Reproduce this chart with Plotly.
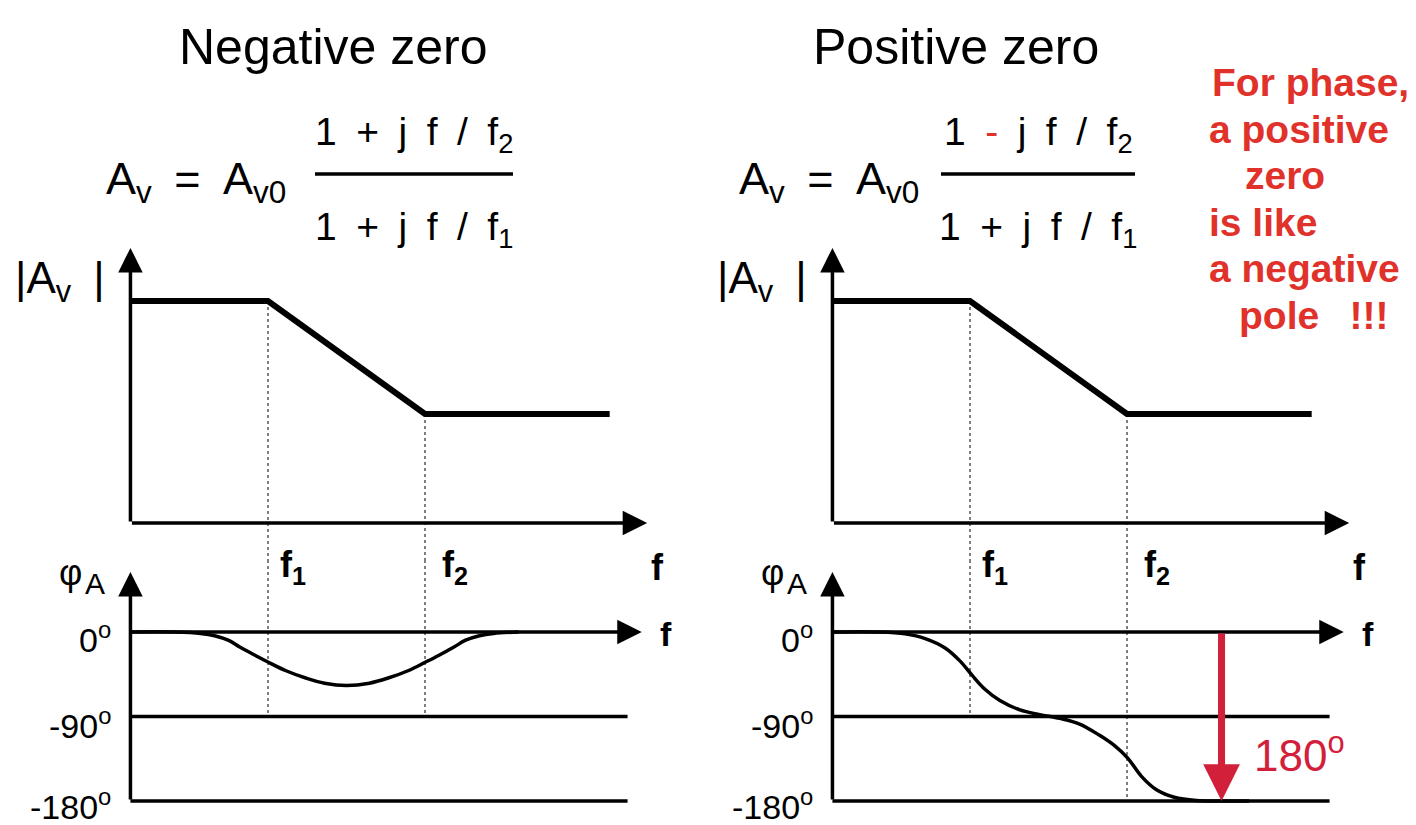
import math
import plotly.graph_objects as go

W, H = 1416, 825
FONT = "Liberation Sans, Arial, sans-serif"
RED_TXT = "#e0322b"
RED_ARROW = "#d2203a"

# ---- data: frequency normalised to f1 (f2 = 10 f1), magnitude in dB, phase in degrees ----
F1, F2 = 1.0, 10.0
mag_f = [0.133, 1.0, 10.0, 150.0]
mag_db = [0.0, 0.0, -20.0, -20.0]

neg_f = [0.133, 0.257, 0.372, 0.457, 0.562, 0.661, 0.832, 1.0, 1.29, 1.74, 2.29,
         3.16, 4.43, 5.83, 7.87, 10.1, 12.2, 15.3, 18.0, 22.2, 27.3, 39.4]
neg_phase = [0, 0, -1.5, -4, -9, -16, -25, -32, -41, -49, -54.5,
             -57, -54.5, -49, -41, -32, -25, -16, -9, -4, -1.5, 0]

pos_f = [0.133, 0.268, 0.386, 0.518, 0.694, 0.865, 1.03, 1.245, 1.55, 2.08, 2.78,
         3.73, 4.99, 6.69, 8.33, 10.07, 12.4, 15.4, 20.0, 27.6, 38.7, 60.0]
pos_phase = [0, 0, -2, -7, -17, -31, -46, -61, -73, -83, -88,
             -92, -98, -110, -121, -134, -154, -168, -176, -179.5, -180, -180]

phase_levels = [0, -90, -180]
phase_texts = ["0<sup>o</sup>", "-90<sup>o</sup>", "-180<sup>o</sup>"]
shift_deg = 180           # phase drop marked on the positive-zero plot
f_shift = 40.0            # where that marker stands

# ---- axis geometry (data units) ----
F_AXIS = 0.133            # vertical axes
F_MAG_TIP = 260.0         # tip of magnitude f-axis
F_PH_TIP = 240.0          # tip of the 0 deg f-axis
F_PH_END = 195.0          # end of -90 / -180 guide lines
MAG_TOP, MAG_BASE = 9.4, -39.3
PH_TOP = 64.0

X_RANGE = [-1.070, 2.624]
MAG_RANGE = [-45.84, 10.80]
PH_RANGE = [-194.9, 76.7]


def px(x):
    return x / W


def py(y):
    return 1 - y / H


fig = go.Figure()

panels = [
    dict(xm="x", ym="y", xp="x2", yp="y2", pf=neg_f, ph=neg_phase,
         f2_dot=-90, dx=0, x0=100),
    dict(xm="x3", ym="y3", xp="x4", yp="y4", pf=pos_f, ph=pos_phase,
         f2_dot=-180, dx=702, x0=802),
]

annotations = []
shapes = []
layout_axes = {}


def arrow(xref, yref, f0, v0, f1, v1, width=3.5, size=1.4, color="black"):
    return dict(xref=xref, yref=yref, axref=xref, ayref=yref,
                x=math.log10(f1), y=v1, ax=math.log10(f0), ay=v0,
                showarrow=True, arrowhead=2, arrowwidth=width,
                arrowsize=size, arrowcolor=color, text="")


def label(text, x, y, size, color="black", xanchor="center", yanchor="middle"):
    return dict(xref="paper", yref="paper", x=px(x), y=py(y), text=text,
                showarrow=False, xanchor=xanchor, yanchor=yanchor,
                font=dict(family=FONT, size=size, color=color))


sp = "\u2002"

for p in panels:
    dotted = dict(color="#555555", width=1.5, dash="dot")
    # dotted guides at f1 and f2 through magnitude and phase plots
    fig.add_trace(go.Scatter(x=[F1, F1], y=[mag_db[1], MAG_RANGE[0]], mode="lines",
                             line=dotted, xaxis=p["xm"], yaxis=p["ym"], hoverinfo="skip"))
    fig.add_trace(go.Scatter(x=[F2, F2], y=[mag_db[2], MAG_RANGE[0]], mode="lines",
                             line=dotted, xaxis=p["xm"], yaxis=p["ym"], hoverinfo="skip"))
    fig.add_trace(go.Scatter(x=[F1, F1], y=[PH_RANGE[1], -90], mode="lines",
                             line=dotted, xaxis=p["xp"], yaxis=p["yp"], hoverinfo="skip"))
    fig.add_trace(go.Scatter(x=[F2, F2], y=[PH_RANGE[1], p["f2_dot"]], mode="lines",
                             line=dotted, xaxis=p["xp"], yaxis=p["yp"], hoverinfo="skip"))

    # -90 / -180 guide lines
    for lv in phase_levels[1:]:
        fig.add_trace(go.Scatter(x=[F_AXIS, F_PH_END], y=[lv, lv], mode="lines",
                                 line=dict(color="black", width=3.5),
                                 xaxis=p["xp"], yaxis=p["yp"], hoverinfo="skip"))

    # magnitude asymptote
    fig.add_trace(go.Scatter(x=mag_f, y=mag_db, mode="lines",
                             line=dict(color="black", width=6),
                             xaxis=p["xm"], yaxis=p["ym"], hoverinfo="skip"))
    # phase curve
    fig.add_trace(go.Scatter(x=p["pf"], y=p["ph"], mode="lines",
                             line=dict(color="black", width=3.5, shape="spline", smoothing=1.0),
                             xaxis=p["xp"], yaxis=p["yp"], hoverinfo="skip"))

    # axes with arrow heads
    annotations.append(arrow(p["xm"], p["ym"], F_AXIS, MAG_BASE, F_AXIS, MAG_TOP))
    annotations.append(arrow(p["xm"], p["ym"], F_AXIS, MAG_BASE, F_MAG_TIP, MAG_BASE))
    annotations.append(arrow(p["xp"], p["yp"], F_AXIS, -180, F_AXIS, PH_TOP))
    annotations.append(arrow(p["xp"], p["yp"], F_AXIS, 0, F_PH_TIP, 0))

    dx = p["dx"]
    # axis labels
    annotations.append(label(f"|A<sub>v</sub>{sp}|", 13 + dx, 281, 44, xanchor="left"))
    annotations.append(label("φ", 70 + dx, 572, 36))
    annotations.append(label("A", 95 + dx, 583, 30))
    for lv, t, yy in zip(phase_levels, phase_texts, [637, 723, 804]):
        annotations.append(label(t, 113 + dx, yy, 34, xanchor="right"))
    annotations.append(dict(xref=p["xm"], yref="paper", x=math.log10(F1), y=py(567),
                            xshift=10, text="<b>f<sub>1</sub></b>", showarrow=False,
                            xanchor="left", yanchor="middle",
                            font=dict(family=FONT, size=36, color="black")))
    annotations.append(dict(xref=p["xm"], yref="paper", x=math.log10(F2), y=py(567),
                            xshift=15, text="<b>f<sub>2</sub></b>", showarrow=False,
                            xanchor="left", yanchor="middle",
                            font=dict(family=FONT, size=36, color="black")))
    annotations.append(label("<b>f</b>", 657 + dx, 567, 36))
    annotations.append(label("<b>f</b>", 666 + dx, 634, 34))

# 180 degree drop on the positive-zero phase plot
annotations.append(arrow("x4", "y4", f_shift, 0, f_shift, -shift_deg,
                         width=7, size=1.05, color=RED_ARROW))
annotations.append(label(f"{shift_deg}<sup>o</sup>", 1252, 752, 44,
                         color=RED_ARROW, xanchor="left"))

# titles
annotations.append(label("Negative zero", 333, 47, 50))
annotations.append(label("Positive zero", 956, 47, 50))

# transfer functions
for fx, bar0, bar1, num in [
    (104, 315, 513, f"1{sp}+{sp}j{sp}f{sp}/{sp}f<sub>2</sub>"),
    (737, 941, 1135, f"1{sp}<span style='color:{RED_TXT}'>-</span>{sp}j{sp}f{sp}/{sp}f<sub>2</sub>"),
]:
    annotations.append(label(f"A<sub>v</sub>{sp}={sp}A<sub>v0</sub>", fx, 182, 45,
                             xanchor="left"))
    cx = (bar0 + bar1) / 2
    annotations.append(label(num, cx, 135, 39))
    annotations.append(label(f"1{sp}+{sp}j{sp}f{sp}/{sp}f<sub>1</sub>", cx, 229, 39))
    shapes.append(dict(type="line", xref="paper", yref="paper",
                       x0=px(bar0), x1=px(bar1), y0=py(174), y1=py(174),
                       line=dict(color="black", width=3.5)))

# side note
note = [("For phase,", 1210), ("a positive", 1207), ("zero", 1243),
        ("is like", 1207), ("a negative", 1207), ("pole" + sp + " !!!", 1237)]
for i, (t, xx) in enumerate(note):
    annotations.append(label(f"<b>{t}</b>", xx, 83 + i * 46.4, 39,
                             color=RED_TXT, xanchor="left"))

axis_common = dict(showgrid=False, zeroline=False, showticklabels=False,
                   showline=False, ticks="", fixedrange=True)
for p in panels:
    xd = [px(p["x0"]), px(p["x0"] + 580)]
    for xa in (p["xm"], p["xp"]):
        key = "xaxis" + xa[1:]
        layout_axes[key] = dict(type="log", range=X_RANGE, domain=xd,
                                anchor=("y" + xa[1:]), **axis_common)
    layout_axes["yaxis" + p["ym"][1:]] = dict(range=MAG_RANGE, domain=[py(560), py(240)],
                                              anchor=p["xm"], **axis_common)
    layout_axes["yaxis" + p["yp"][1:]] = dict(range=PH_RANGE, domain=[py(815), py(560)],
                                              anchor=p["xp"], **axis_common)

fig.update_layout(
    width=W, height=H,
    margin=dict(l=0, r=0, t=0, b=0),
    paper_bgcolor="white", plot_bgcolor="rgba(0,0,0,0)",
    showlegend=False,
    annotations=annotations,
    shapes=shapes,
    **layout_axes,
)

fig.write_html("out.html")
